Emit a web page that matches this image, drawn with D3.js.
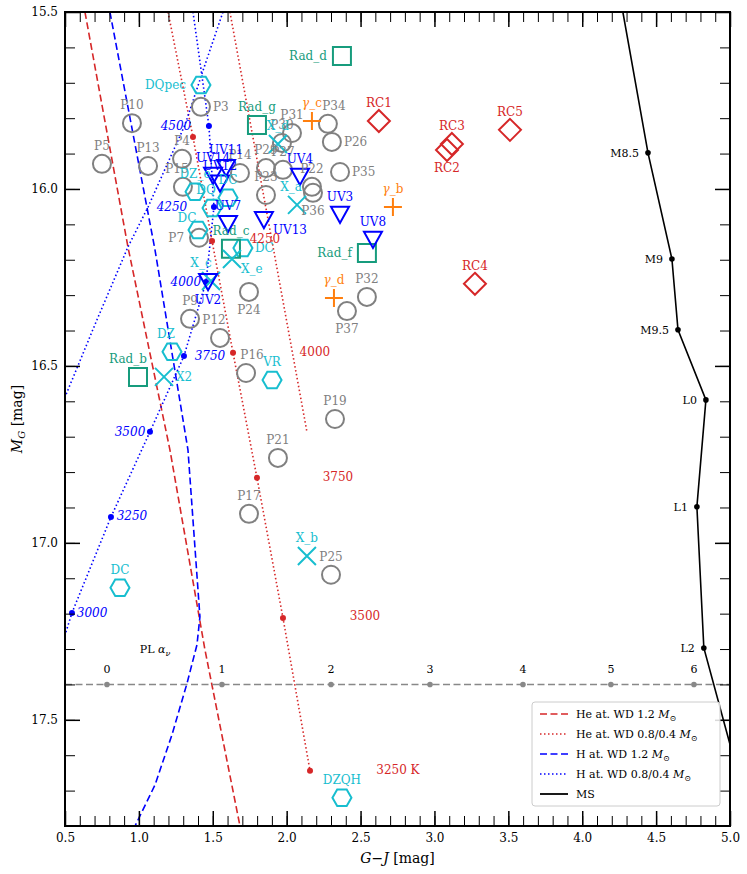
<!DOCTYPE html>
<html>
<head>
<meta charset="utf-8">
<script src="https://cdn.jsdelivr.net/npm/d3@7"></script>
<style>
  body { margin: 0; background: #fff; }
  text { font-family: "DejaVu Serif", serif; }
</style>
</head>
<body>
<div class="canvas"></div>
<script>
// data (G-J colour, absolute G mag)
const pointsP = [
  ["P10", 0.953, 15.814], ["P3", 1.420, 15.768], ["P5", 0.750, 15.929], ["P13", 1.062, 15.935],
  ["P4", 1.292, 15.915], ["P15", 1.298, 15.994], ["P7", 1.407, 16.138], ["P14", 1.684, 15.955],
  ["P29", 1.860, 15.941], ["P27", 1.975, 15.946], ["P30", 1.968, 15.870], ["P31", 2.036, 15.842],
  ["P23", 1.860, 16.017], ["P34", 2.279, 15.816], ["P26", 2.306, 15.867], ["P35", 2.361, 15.952],
  ["P22", 2.171, 15.994], ["P36", 2.178, 16.011], ["P9", 1.346, 16.367], ["P12", 1.549, 16.421],
  ["P24", 1.745, 16.291], ["P16", 1.725, 16.520], ["P37", 2.408, 16.345], ["P32", 2.543, 16.305],
  ["P19", 2.327, 16.650], ["P21", 1.941, 16.760], ["P17", 1.745, 16.918], ["P25", 2.300, 17.090]
];
const pointsRC = [
  ["RC1", 2.624, 15.808], ["RC2", 3.085, 15.890], ["RC3", 3.118, 15.873],
  ["RC5", 3.511, 15.833], ["RC4", 3.274, 16.268]
];
const pointsGamma = [["γ_c", 2.171, 15.808], ["γ_b", 2.719, 16.051], ["γ_d", 2.320, 16.308]];
const pointsRad = [
  ["Rad_d", 2.374, 15.624], ["Rad_g", 1.799, 15.819], ["Rad_c", 1.623, 16.169],
  ["Rad_f", 2.543, 16.181], ["Rad_b", 0.994, 16.531]
];
const pointsX = [
  ["X_a", 2.070, 16.045], ["X_b", 2.137, 17.037], ["X_c", 1.488, 16.260],
  ["X_e", 1.630, 16.198], ["X2", 1.170, 16.531], ["X_d", 1.941, 15.873]
];
const pointsUV = [
  ["UV11", 1.590, 15.941], ["UV14", 1.502, 15.963], ["UV12", 1.549, 15.985],
  ["UV4", 2.090, 15.966], ["UV3", 2.361, 16.073], ["UV8", 2.584, 16.144],
  ["UV13", 1.846, 16.088], ["UV7", 1.603, 16.099], ["UV2", 1.468, 16.263]
];
const pointsHex = [
  ["DQpec", 1.420, 15.706], ["DZ_e", 1.380, 16.008], ["DQ", 1.495, 16.054],
  ["DC", 1.603, 16.025], ["DC", 1.400, 16.116], ["DC", 1.704, 16.167],
  ["DZ", 1.224, 16.460], ["VR", 1.901, 16.540], ["DC", 0.872, 17.127], ["DZQH", 2.374, 17.720]
];

// model tracks
const heWD12 = [[0.635, 15.5], [0.926, 16.164], [1.210, 16.737], [1.447, 17.302], [1.684, 17.8]];
const heWD08 = [[1.197, 15.5], [1.366, 15.853], [1.495, 16.147], [1.637, 16.463], [1.799, 16.816], [1.975, 17.212], [2.158, 17.644]];
const heWD04 = [[1.616, 15.5], [1.887, 16.116], [2.137, 16.686]];
const hWD12 = [[0.804, 15.5], [1.109, 16.172], [1.332, 16.737], [1.413, 17.209], [1.393, 17.288],
               [1.325, 17.398], [1.224, 17.542], [1.109, 17.684], [0.974, 17.8]];
const hWD08 = [[1.366, 15.5], [1.474, 15.822], [1.508, 16.051], [1.454, 16.263], [1.305, 16.472],
               [1.075, 16.686], [0.811, 16.927], [0.547, 17.198], [0.470, 17.30]];
const hWD04 = [[1.569, 15.5], [1.440, 15.658], [1.312, 15.819], [1.183, 15.938], [1.062, 16.051],
               [0.926, 16.164], [0.710, 16.376], [0.5, 16.588]];

// temperature marks
const heTemps = [4500, 4250, 4000, 3750, 3500, 3250];
const heTempDots = [[1.366, 15.853], [1.495, 16.147], [1.637, 16.463], [1.799, 16.816], [1.975, 17.212], [2.158, 17.644]];
const heTempLabels = [null, [1.853, 16.140], [2.191, 16.460], [2.347, 16.813], [2.530, 17.208], [2.753, 17.643]];
const hTemps = [4500, 4250, 4000, 3750, 3500, 3250, 3000];
const hTempDots = [[1.474, 15.822], [1.508, 16.051], [1.454, 16.263], [1.305, 16.472], [1.075, 16.686], [0.811, 16.927], [0.547, 17.198]];
const hTempLabels = [[1.251, 15.822], [1.224, 16.051], [1.318, 16.263], [1.481, 16.472], [0.940, 16.686], [0.953, 16.924], [0.683, 17.198]];

// main sequence
const msTypes = ["", "M8.5", "M9", "M9.5", "L0", "L1", "L2", ""];
const msColour = [4.275, 4.445, 4.607, 4.648, 4.837, 4.776, 4.823, 5.15];
const msMag = [15.5, 15.898, 16.198, 16.398, 16.596, 16.898, 17.297, 17.8];

// power-law alpha_nu scale
const plAlpha = [0, 1, 2, 3, 4, 5, 6];
const plColour = [0.784, 1.562, 2.300, 2.970, 3.599, 4.194, 4.756];
const plMag = 17.4;

const xMajor = [0.5, 1.0, 1.5, 2.0, 2.5, 3.0, 3.5, 4.0, 4.5, 5.0];
const yMajor = [15.5, 16.0, 16.5, 17.0, 17.5];

// label placement (t = above, default)
const sideOf = {
  P3: "r", P7: "l", P15: "tl", P12: "tl", P34: "tr", P26: "r", P35: "r", P36: "b", P24: "b",
  P16: "tr", P37: "b", RC2: "b", Rad_d: "l", Rad_f: "l", Rad_b: "tl2", X_a: "tl", X_c: "tl2",
  X_e: "br", X2: "r", UV13: "br", UV2: "b"
};
const hexSides = ["l", "t", "tl", "t", "tl3", "r", "tl", "t", "t", "t"];

// --- layout
const W = 747, H = 874;
const plot = {left: 65, right: 730, top: 12, bottom: 826};

const svg = d3.select('.canvas').append('svg')
  .attr('width', W).attr('height', H);

const x = d3.scaleLinear().domain([0.5, 5.0]).range([plot.left, plot.right]);
const y = d3.scaleLinear().domain([15.5, 17.8]).range([plot.top, plot.bottom]);

svg.append('clipPath').attr('id', 'clip').append('rect')
  .attr('x', plot.left).attr('y', plot.top)
  .attr('width', plot.right - plot.left).attr('height', plot.bottom - plot.top);

const graph = svg.append('g').attr('clip-path', 'url(#clip)');

const line = d3.line().x(d => x(d[0])).y(d => y(d[1]));

const RED = '#d62728', BLUE = '#0000ff', CYAN = '#17becf', TEAL = '#179c7d', ORANGE = '#ff7f0e', GREY = '#808080';

// tracks
const tracks = [
  {d: heWD12, c: RED, dash: '7,3.5'},
  {d: heWD08, c: RED, dash: '1.5,2.5'},
  {d: heWD04, c: RED, dash: '1.5,2.5'},
  {d: hWD12, c: BLUE, dash: '7,3.5'},
  {d: hWD08, c: BLUE, dash: '1.5,2.5'},
  {d: hWD04, c: BLUE, dash: '1.5,2.5'}
];
graph.selectAll('path.track').data(tracks).join('path')
  .attr('class', 'track')
  .attr('d', t => line(t.d))
  .attr('fill', 'none')
  .attr('stroke', t => t.c)
  .attr('stroke-width', 1.6)
  .attr('stroke-dasharray', t => t.dash);

// PL line
graph.append('line')
  .attr('x1', plot.left).attr('x2', plot.right)
  .attr('y1', y(plMag)).attr('y2', y(plMag))
  .attr('stroke', '#888').attr('stroke-width', 1.6).attr('stroke-dasharray', '7,3.5');
graph.selectAll('circle.pl').data(plColour).join('circle')
  .attr('class', 'pl').attr('cx', d => x(d)).attr('cy', y(plMag)).attr('r', 2.8).attr('fill', '#888');
svg.selectAll('text.pl').data(plAlpha).join('text')
  .attr('class', 'pl')
  .attr('x', (d, i) => x(plColour[i])).attr('y', y(plMag) - 11)
  .attr('text-anchor', 'middle').attr('font-size', 11).text(d => d);
const plLab = svg.append('text').attr('x', x(1.109)).attr('y', y(17.3) + 4)
  .attr('text-anchor', 'middle').attr('font-size', 11);
plLab.append('tspan').text('PL ');
plLab.append('tspan').attr('font-style', 'italic').text('α');
plLab.append('tspan').attr('font-style', 'italic').attr('font-size', 8).attr('dy', 3).text('ν');

// MS
graph.append('path').attr('d', line(msColour.map((c, i) => [c, msMag[i]])))
  .attr('fill', 'none').attr('stroke', '#000').attr('stroke-width', 1.6);
graph.selectAll('circle.ms').data(msTypes.map((t, i) => [t, msColour[i], msMag[i]]).filter(d => d[0]))
  .join('circle').attr('class', 'ms')
  .attr('cx', d => x(d[1])).attr('cy', d => y(d[2])).attr('r', 2.8).attr('fill', '#000');
svg.selectAll('text.ms').data(msTypes.map((t, i) => [t, msColour[i], msMag[i]]).filter(d => d[0]))
  .join('text').attr('class', 'ms')
  .attr('x', d => x(d[1]) - 9).attr('y', d => y(d[2]) + 4)
  .attr('text-anchor', 'end').attr('font-size', 11).text(d => d[0]);

// temperature dots + labels
graph.selectAll('circle.het').data(heTempDots).join('circle').attr('class', 'het')
  .attr('cx', d => x(d[0])).attr('cy', d => y(d[1])).attr('r', 3).attr('fill', RED);
graph.selectAll('circle.ht').data(hTempDots).join('circle').attr('class', 'ht')
  .attr('cx', d => x(d[0])).attr('cy', d => y(d[1])).attr('r', 3).attr('fill', BLUE);

// markers
function shape(type) {
  const s = 9;
  switch (type) {
    case 'circle': return `M${s},0A${s},${s} 0 1 1 ${-s},0A${s},${s} 0 1 1 ${s},0Z`;
    case 'square': return `M${-s},${-s}H${s}V${s}H${-s}Z`;
    case 'diamond': { const r = 11; return `M0,${-r}L${r},0L0,${r}L${-r},0Z`; }
    case 'plus': return `M${-s},0H${s}M0,${-s}V${s}`;
    case 'x': return `M${-s},${-s}L${s},${s}M${-s},${s}L${s},${-s}`;
    case 'tri': return `M${-s},${-s * 0.9}H${s}L0,${s * 0.9}Z`;
    case 'hex': {
      const r = 9.5;
      return d3.range(6).map(k => {
        const a = k * Math.PI / 3;
        return (k ? 'L' : 'M') + (r * Math.cos(a)).toFixed(2) + ',' + (r * Math.sin(a)).toFixed(2);
      }).join('') + 'Z';
    }
  }
}

const groups = [
  {data: pointsP, type: 'circle', color: GREY},
  {data: pointsHex, type: 'hex', color: CYAN, sides: hexSides},
  {data: pointsRC, type: 'diamond', color: RED},
  {data: pointsGamma, type: 'plus', color: ORANGE},
  {data: pointsRad, type: 'square', color: TEAL},
  {data: pointsX, type: 'x', color: CYAN},
  {data: pointsUV, type: 'tri', color: BLUE}
];

const offsets = {
  t: [0, -14, 'middle'], b: [0, 22, 'middle'], l: [-15, 4, 'end'], r: [12, 4, 'start'],
  tl: [-6, -14, 'middle'], tl2: [-10, -14, 'middle'], tl3: [-11, -8, 'middle'],
  tr: [6, -14, 'middle'], br: [9, 14, 'start']
};

groups.forEach(g => {
  graph.append('g').selectAll('path').data(g.data).join('path')
    .attr('d', shape(g.type))
    .attr('transform', d => `translate(${x(d[1])},${y(d[2])})`)
    .attr('fill', 'none')
    .attr('stroke', g.color)
    .attr('stroke-width', 2);
});

const labelLayer = svg.append('g');
groups.forEach(g => {
  labelLayer.append('g').selectAll('text').data(g.data).join('text')
    .each(function (d, i) {
      const side = g.sides ? g.sides[i] : (sideOf[d[0]] || 't');
      const o = offsets[side];
      const t = d3.select(this)
        .attr('x', x(d[1]) + o[0]).attr('y', y(d[2]) + o[1])
        .attr('text-anchor', o[2]).attr('font-size', 12).attr('fill', g.color);
      if (d[0].startsWith('γ')) {
        t.append('tspan').attr('font-style', 'italic').text('γ');
        t.append('tspan').text(d[0].slice(1));
      } else {
        t.text(d[0]);
      }
    });
});

// temperature labels
labelLayer.selectAll('text.hetl').data(heTemps.map((t, i) => [t, heTempLabels[i]]).filter(d => d[1]))
  .join('text').attr('class', 'hetl')
  .attr('x', d => x(d[1][0])).attr('y', d => y(d[1][1]) + 4)
  .attr('text-anchor', 'middle').attr('font-size', 12).attr('fill', RED)
  .text(d => d[0] === 3250 ? '3250 K' : d[0]);
labelLayer.selectAll('text.htl').data(hTemps.map((t, i) => [t, hTempLabels[i]]))
  .join('text').attr('class', 'htl')
  .attr('x', d => x(d[1][0])).attr('y', d => y(d[1][1]) + 4)
  .attr('text-anchor', 'middle').attr('font-size', 12).attr('font-style', 'italic').attr('fill', BLUE)
  .text(d => d[0]);

// axes with inward ticks on all sides
const xMinor = d3.range(5, 51).map(v => v / 10);
const yMinor = d3.range(155, 179).map(v => v / 10);
const axes = svg.append('g');
function addAxis(gen, scale, vals, size, tx, ty, labels) {
  const a = gen(scale).tickValues(vals).tickSize(-size).tickPadding(7)
    .tickFormat(labels ? d3.format('.1f') : () => '');
  const g = axes.append('g').attr('transform', `translate(${tx},${ty})`).call(a);
  g.select('.domain').remove();
  g.selectAll('line').attr('stroke', '#000').attr('stroke-width', size > 12 ? 1.5 : 1);
  g.selectAll('text').attr('font-size', 12).attr('font-family', 'DejaVu Serif').attr('fill', '#000');
}
addAxis(d3.axisBottom, x, xMinor, 10, 0, plot.bottom, false);
addAxis(d3.axisBottom, x, xMajor, 15, 0, plot.bottom, true);
addAxis(d3.axisTop, x, xMinor, 10, 0, plot.top, false);
addAxis(d3.axisTop, x, xMajor, 15, 0, plot.top, false);
addAxis(d3.axisLeft, y, yMinor, 10, plot.left, 0, false);
addAxis(d3.axisLeft, y, yMajor, 15, plot.left, 0, true);
addAxis(d3.axisRight, y, yMinor, 10, plot.right, 0, false);
addAxis(d3.axisRight, y, yMajor, 15, plot.right, 0, false);

svg.append('rect')
  .attr('x', plot.left).attr('y', plot.top)
  .attr('width', plot.right - plot.left).attr('height', plot.bottom - plot.top)
  .attr('fill', 'none').attr('stroke', '#000').attr('stroke-width', 2);

// axis titles
const xt = svg.append('text').attr('x', (plot.left + plot.right) / 2).attr('y', 863)
  .attr('text-anchor', 'middle').attr('font-size', 14);
xt.append('tspan').attr('font-style', 'italic').text('G');
xt.append('tspan').text('−');
xt.append('tspan').attr('font-style', 'italic').text('J');
xt.append('tspan').text('  [mag]');

const yt = svg.append('text')
  .attr('transform', `translate(22,${(plot.top + plot.bottom) / 2}) rotate(-90)`)
  .attr('text-anchor', 'middle').attr('font-size', 14);
yt.append('tspan').attr('font-style', 'italic').text('M');
yt.append('tspan').attr('font-style', 'italic').attr('font-size', 10).attr('dy', 3).text('G');
yt.append('tspan').attr('dy', -3).text(' [mag]');

// legend
const legendItems = [
  {label: 'He at. WD 1.2 ', c: RED, dash: '7,3.5', lw: 1.6},
  {label: 'He at. WD 0.8/0.4 ', c: RED, dash: '1.5,2.5', lw: 1.6},
  {label: 'H at. WD 1.2 ', c: BLUE, dash: '7,3.5', lw: 1.6},
  {label: 'H at. WD 0.8/0.4 ', c: BLUE, dash: '1.5,2.5', lw: 1.6},
  {label: 'MS', c: '#000', dash: null, lw: 1.8}
];
const lg = svg.append('g').attr('transform', 'translate(532,702)');
lg.append('rect').attr('width', 188).attr('height', 104).attr('rx', 3)
  .attr('fill', '#fff').attr('fill-opacity', 0.85).attr('stroke', '#ccc');
legendItems.forEach((it, i) => {
  const yy = 12 + i * 20;
  lg.append('line').attr('x1', 8).attr('x2', 36).attr('y1', yy).attr('y2', yy)
    .attr('stroke', it.c).attr('stroke-width', it.lw).attr('stroke-dasharray', it.dash);
  const t = lg.append('text').attr('x', 44).attr('y', yy + 4).attr('font-size', 11);
  t.append('tspan').text(it.label);
  if (it.label !== 'MS') {
    t.append('tspan').attr('font-style', 'italic').text('M');
    t.append('tspan').attr('font-size', 8).attr('dy', 3).text('⊙');
  }
});
</script>
</body>
</html>
